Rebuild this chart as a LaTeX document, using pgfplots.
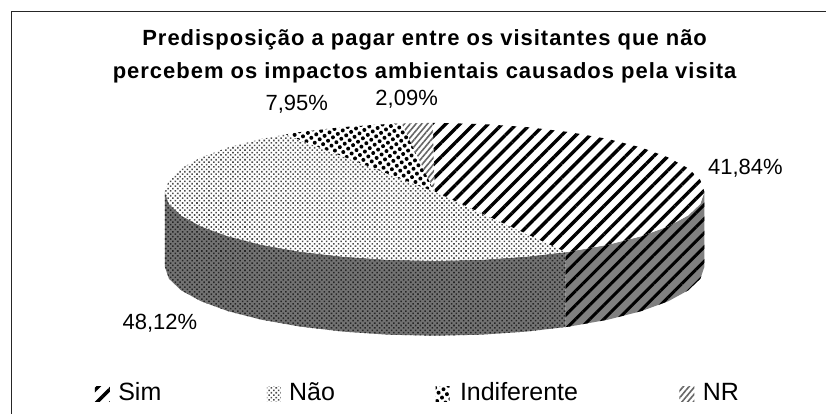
\documentclass[border=0pt]{standalone}
\usepackage{fontspec}
\setmainfont{Liberation Sans}
\usepackage{pgfplots}
\pgfplotsset{compat=1.18}
\usetikzlibrary{patterns.meta}

% stripes and dots, 1 px of the reference is 0.5pt here
\tikzset{
  simtop/.style={draw=none, fill=white, postaction={pattern={Lines[angle=45,distance=5pt,line width=1.7pt]},pattern color=black}},
  simside/.style={draw=none, fill=black!50, postaction={pattern={Lines[angle=45,distance=5pt,line width=1.5pt]},pattern color=black}},
  naotop/.style={draw=none, fill=white, postaction={pattern={Dots[distance=1.7pt,radius=0.55pt,angle=45]},pattern color=black!70}},
  naoside/.style={draw=none, fill=black!55, postaction={pattern={Dots[distance=1.7pt,radius=0.55pt,angle=45]},pattern color=black!85}},
  inditop/.style={draw=none, fill=white, postaction={pattern={Dots[distance=3pt,radius=1pt,angle=35]},pattern color=black}},
  nrtop/.style={draw=none, fill=white, postaction={pattern={Lines[angle=50,distance=2.2pt,line width=0.8pt]},pattern color=black!60}},
  vallabel/.style={font=\fontsize{11}{13}\selectfont, anchor=base, inner sep=0pt},
  legtext/.style={font=\fontsize{12.5}{14}\selectfont, anchor=base west, inner sep=0pt},
}

\begin{document}
\begin{tikzpicture}
\begin{axis}[
  scale only axis, width=413.5pt, height=207pt,
  xmin=0, xmax=827, ymin=0, ymax=414, y dir=reverse,
  hide axis, clip=false,
]
% keeps the page as large as the whole axis
\addplot[draw=none] coordinates {(0,0) (827,414)};
% frame, left and top only
\addplot[black!85, line width=0.7pt] coordinates {(11.5,414) (11.5,11.5) (827,11.5)};

% side of the pie
\addplot[simside] coordinates {(705,192) (700.9,204) (688.7,215.6) (668.8,226.5) (641.8,236.4) (608.6,244.9) (570,251.8) (565.9,252.3)
  (565.9,327.3) (570,326.8) (608.6,319.9) (641.8,311.4) (668.8,301.5) (688.7,290.6) (700.9,279) (705,267)} -- cycle;
\addplot[naoside] coordinates {(565.9,252.3) (527.3,256.8) (481.9,259.95) (435,261) (388.1,259.95) (342.7,256.8) (300,251.8) (261.4,244.9) (228.2,236.4) (201.2,226.5) (181.3,215.6) (169.1,204) (165,192)
  (165,267) (169.1,279) (181.3,290.6) (201.2,301.5) (228.2,311.4) (261.4,319.9) (300,326.8) (342.7,331.8) (388.1,334.95) (435,336) (481.9,334.95) (527.3,331.8) (565.9,327.3)} -- cycle;

% top of the pie
\addplot[simtop] coordinates {(435,192) (433,123) (435,123) (481.9,124.05) (527.3,127.2) (570,132.2) (608.6,139.1) (641.8,147.6) (668.8,157.5) (688.7,168.4) (700.9,180) (705,192) (700.9,204) (688.7,215.6) (668.8,226.5) (641.8,236.4) (608.6,244.9) (570,251.8) (565.9,252.3)} -- cycle;
\addplot[naotop] coordinates {(435,192) (565.9,252.3) (527.3,256.8) (481.9,259.95) (435,261) (388.1,259.95) (342.7,256.8) (300,251.8) (261.4,244.9) (228.2,236.4) (201.2,226.5) (181.3,215.6) (169.1,204) (165,192) (169.1,180) (181.3,168.4) (201.2,157.5) (228.2,147.6) (261.4,139.1) (286,134.5)} -- cycle;
\addplot[inditop] coordinates {(435,192) (286,134.5) (300,132.2) (342.7,127.2) (388.1,124.05) (402.1,123.5)} -- cycle;
\addplot[nrtop] coordinates {(435,192) (402.1,123.5) (433,123)} -- cycle;

% legend swatches
\addplot[simtop] coordinates {(95,387) (110,387) (110,402) (95,402)} -- cycle;
\addplot[naotop] coordinates {(267,387) (281,387) (281,402) (267,402)} -- cycle;
\addplot[inditop] coordinates {(436,387) (450,387) (450,402) (436,402)} -- cycle;
\addplot[nrtop] coordinates {(680,387) (695,387) (695,402) (680,402)} -- cycle;

% title
\node[font=\fontsize{11}{16.5}\selectfont\bfseries\addfontfeature{LetterSpace=4.5}, align=center] at (axis cs:425,56) {Predisposição a pagar entre os visitantes que não\\percebem os impactos ambientais causados pela visita};

% value labels
\node[vallabel] at (axis cs:297,110.5) {7,95\%};
\node[vallabel] at (axis cs:407,105.5) {2,09\%};
\node[vallabel] at (axis cs:746,175) {41,84\%};
\node[vallabel] at (axis cs:160,330) {48,12\%};

% legend text
\node[legtext] at (axis cs:118,401) {Sim};
\node[legtext] at (axis cs:289,401) {Não};
\node[legtext] at (axis cs:460,401) {Indiferente};
\node[legtext] at (axis cs:703,401) {NR};
\end{axis}
\end{tikzpicture}
\end{document}
